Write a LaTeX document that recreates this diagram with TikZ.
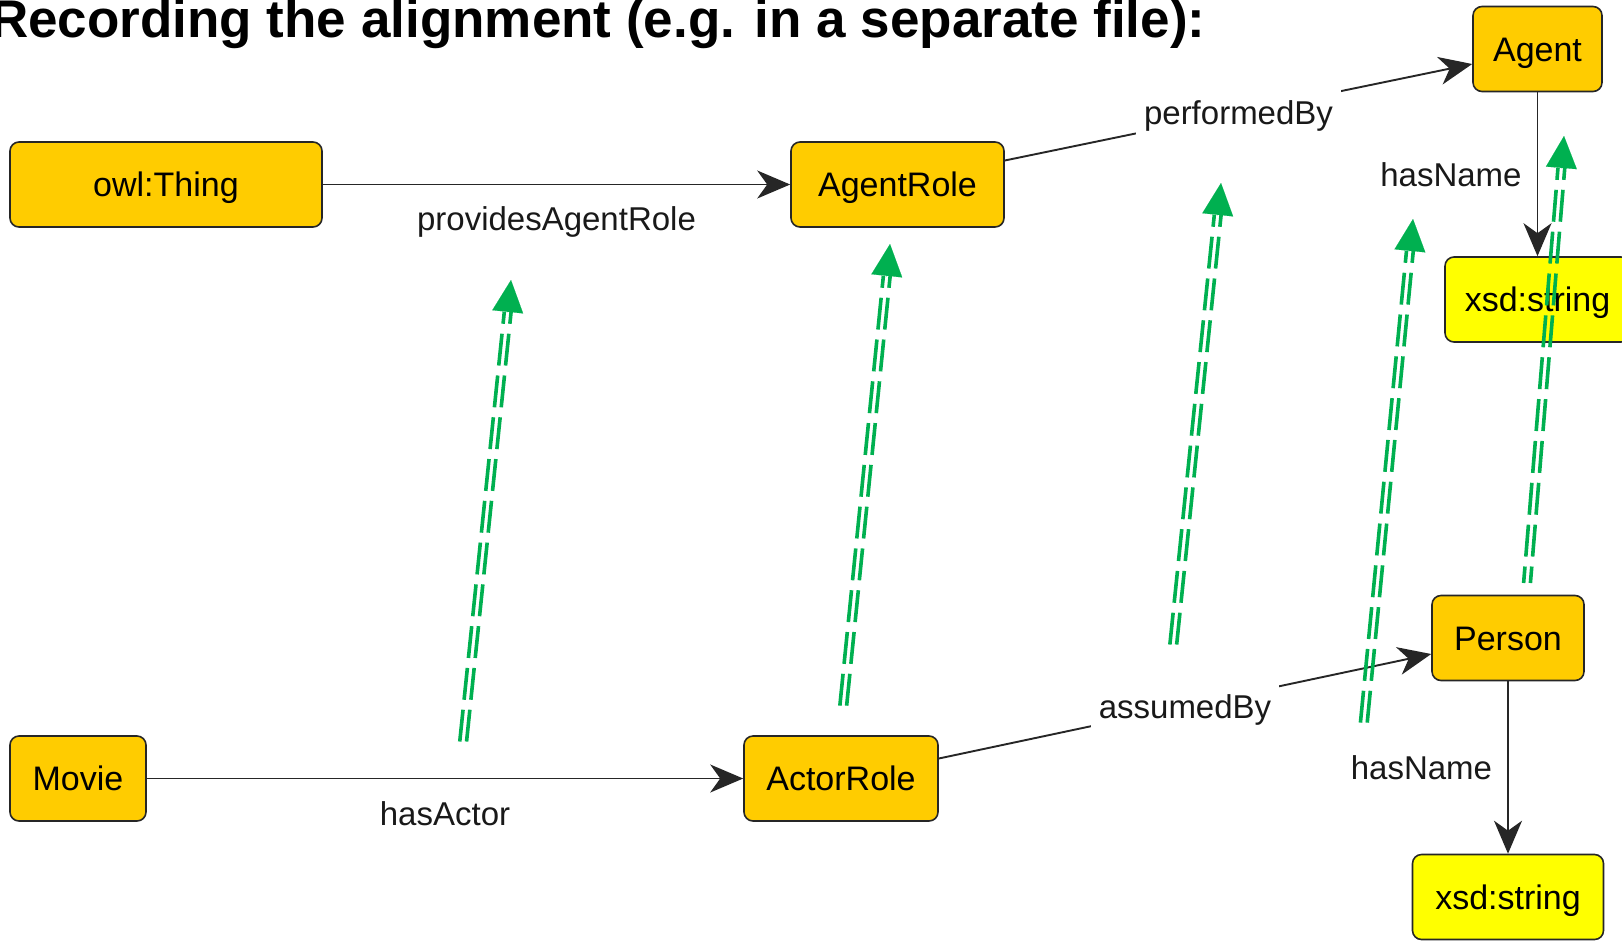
\documentclass[tikz,border=0pt]{standalone}
\usepackage{fontspec}
\setmainfont{Liberation Sans}
\usetikzlibrary{arrows.meta,calc,positioning}

\definecolor{rolegold}{HTML}{FFCC00}
\definecolor{dtyellow}{HTML}{FFFF00}
\definecolor{mapgreen}{HTML}{00B050}

\tikzset{
  cls/.style={draw=black!85, line width=1.6pt, rounded corners=9pt, fill=rolegold,
    inner sep=0pt, minimum height=85pt, text height=24.5pt, text depth=0pt,
    font=\fontsize{34}{40}\selectfont},
  dt/.style={cls, fill=dtyellow},
  prop/.style={draw=black!85, line width=1.9pt, -{Stealth[length=33pt,width=28pt,inset=10pt]}},
  lbl/.style={font=\fontsize{33}{38}\selectfont, text=black!90, inner sep=0pt,
    text height=23.6pt, text depth=0pt},
  onlbl/.style={lbl, fill=white, inner xsep=8pt, inner ysep=12pt},
  mapline/.style={draw=mapgreen, line width=3.6pt, dash pattern=on 32pt off 10pt, dash phase=20pt},
  maptip/.style={draw=mapgreen, line width=0.1pt, -{Triangle[length=32pt,width=31pt]}}
}

\newcommand{\alignarrow}[2]{%
  \draw[mapline] ($(#2)!32pt!(#1)+(-3.4pt,0pt)$) -- ($(#1)+(-3.4pt,0pt)$);
  \draw[mapline] ($(#2)!32pt!(#1)+(3.4pt,0pt)$) -- ($(#1)+(3.4pt,0pt)$);
  \draw[maptip] ($(#2)!33pt!(#1)$) -- (#2);
}

\begin{document}
\begin{tikzpicture}[x=1pt, y=-1pt]
    \useasboundingbox (0,0) rectangle (1622,940);
    \node[anchor=base west, inner sep=0pt, font=\fontsize{53}{60}\selectfont\bfseries] (title) at (-10,37) {Recording the alignment (e.g. in a separate file):};

    \node[cls, minimum width=312pt] (thing) at (166,184.5) {owl:Thing};
    \node[cls, minimum width=213pt] (agentrole) at (897.5,184.5) {AgentRole};
    \node[cls, minimum width=129pt] (agent) at (1537.5,49) {Agent};
    \node[dt, minimum width=185pt] (str1) at (1537.5,299.5) {xsd:string};
    \node[cls, minimum width=136pt] (movie) at (78,778.5) {Movie};
    \node[cls, minimum width=194pt] (actorrole) at (841,778.5) {ActorRole};
    \node[cls, minimum width=152pt] (person) at (1508,638) {Person};
    \node[dt, minimum width=191pt] (str2) at (1508,897) {xsd:string};

    \draw[prop] (thing) -- node[lbl, yshift=-34pt] {providesAgentRole} (agentrole);
    \draw[prop] (movie) -- node[lbl, yshift=-35pt] {hasActor} (actorrole);
    \draw[prop] ([yshift=24pt]agentrole.east) -- node[onlbl] {performedBy} ([yshift=-15pt]agent.west);
    \draw[prop] ([yshift=20pt]actorrole.east) -- node[onlbl] {assumedBy} ([yshift=-16pt]person.west);
    \draw[prop] (agent) -- node[lbl, left=15pt] {hasName} (str1);
    \draw[prop] (person) -- node[lbl, left=15pt] {hasName} (str2);

    \coordinate (m1s) at (463,743);  \coordinate (m1e) at (511,280);
    \coordinate (m2s) at (843,708);  \coordinate (m2e) at (890,244);
    \coordinate (m3s) at (1173,647); \coordinate (m3e) at (1221,183);
    \coordinate (m4s) at (1363,731); \coordinate (m4e) at (1413,219);
    \coordinate (m5s) at (1527,583); \coordinate (m5e) at (1564,136);
    \foreach \i in {1,...,5} { \alignarrow{m\i s}{m\i e} }
\end{tikzpicture}
\end{document}
